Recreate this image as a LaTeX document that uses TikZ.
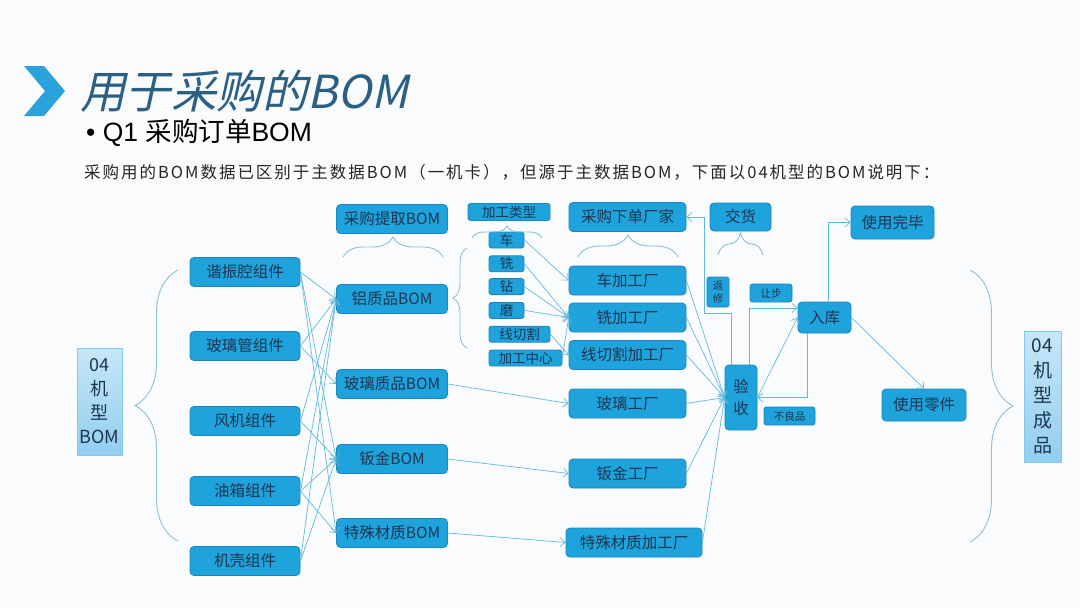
\documentclass[tikz,border=0pt]{standalone}
\usepackage{fontspec}
\setmainfont{Noto Sans CJK SC}
\newfontfamily\pbtitlefont[FakeSlant=0.22]{Noto Sans CJK SC}
\newfontfamily\pblatin{Liberation Sans}
\newfontfamily\pbdescfont[LetterSpace=12]{Noto Sans CJK SC}
\usetikzlibrary{arrows.meta,positioning,decorations.pathreplacing}
\definecolor{pbBg}{HTML}{FAFBFC}
\definecolor{pbFill}{HTML}{1FA3DC}
\definecolor{pbEdge}{HTML}{1A86BE}
\definecolor{pbText}{HTML}{1D3550}
\definecolor{pbLine}{HTML}{62BADB}
\definecolor{pbBrace}{HTML}{8CC1D5}
\definecolor{pbPaleTop}{HTML}{C6E7F8}
\definecolor{pbPaleBot}{HTML}{92CEEF}
\definecolor{pbPaleEdge}{HTML}{86C8EA}
\definecolor{pbTitle}{HTML}{2C5F84}
\definecolor{pbChev}{HTML}{2AA3DC}
\newcommand{\pbmain}{\fontsize{15.5}{18}\selectfont}
\newcommand{\pbsmall}{\fontsize{13.5}{15}\selectfont}
\newcommand{\pbtiny}{\fontsize{10.5}{12}\selectfont}
\tikzset{
  pbbox/.style={draw=pbEdge,line width=0.8pt,fill=pbFill,text=pbText,rounded corners=4pt,
                align=center,inner sep=0pt,font=\pbmain,minimum width=111pt,minimum height=29pt},
  pbtype/.style={pbbox,rounded corners=2.5pt,font=\pbsmall,minimum width=35pt,minimum height=16pt},
  pbtag/.style={pbbox,rounded corners=2.5pt,font=\pbtiny,minimum height=18pt},
  pbpale/.style={draw=pbPaleEdge,line width=0.8pt,top color=pbPaleTop,bottom color=pbPaleBot,
                 text=pbText,align=center,inner sep=0pt},
  pbflow/.style={-{Straight Barb[length=5pt,width=9pt]},draw=pbLine,line width=0.7pt},
  pbbrace/.style={draw=pbBrace,line width=0.9pt,decorate,decoration={brace,amplitude=#1}},
}

\begin{document}
\begin{tikzpicture}[x=1pt,y=-1pt]
  \fill[pbBg] (0,0) rectangle (1080,608);
  % heading
  \fill[pbChev] (24,66) -- (44,66) -- (65,91) -- (44,116) -- (24,116) -- (45,91) -- cycle;
  \node[anchor=west,inner sep=0pt,text=pbTitle,font=\pbtitlefont\fontsize{45.5}{48}\selectfont] (title) at (80,91) {用于采购的BOM};
  \node[anchor=west,inner sep=0pt,text=black,font=\fontsize{26.5}{29}\selectfont] (sub) at (86,133) {{\pblatin• Q1 }采购订单{\pblatin BOM}};
  \node[anchor=west,inner sep=0pt,text=black!85,font=\pbdescfont\fontsize{16.5}{18}\selectfont] (desc) at (84,172) {采购用的BOM数据已区别于主数据BOM（一机卡），但源于主数据BOM，下面以04机型的BOM说明下：};

  % model and components
  \node[pbpale,minimum width=45pt,minimum height=107pt,font=\fontsize{18}{24}\selectfont] (m04) at (99.5,401.5) {04\\机\\型\\BOM};
  \node[pbbox,minimum width=110pt] (xzq) at (245,272) {谐振腔组件};
  \node[pbbox,minimum width=110pt] (blg) at (245,346) {玻璃管组件};
  \node[pbbox,minimum width=110pt] (fji) at (245,421) {风机组件};
  \node[pbbox,minimum width=110pt] (yxi) at (245,491) {油箱组件};
  \node[pbbox,minimum width=110pt] (jke) at (245,561) {机壳组件};

  % BOM column
  \node[pbbox] (tqbom) at (392,219) {采购提取BOM};
  \node[pbbox] (lvbom) at (392,299) {铝质品BOM};
  \node[pbbox] (blbom) at (392,384) {玻璃质品BOM};
  \node[pbbox] (bjbom) at (392,459) {钣金BOM};
  \node[pbbox] (tsbom) at (392,533) {特殊材质BOM};

  % machining types
  \node[pbtype,minimum width=82pt,minimum height=17pt] (lxtype) at (509,212) {加工类型};
  \node[pbtype] (che) at (506.5,240) {车};
  \node[pbtype,below right=7pt and 0pt of che.south west] (xi) {铣};
  \node[pbtype,below right=6pt and 0pt of xi.south west] (zuan) {钻};
  \node[pbtype,below right=7pt and 0pt of zuan.south west] (mo) {磨};
  \node[pbtype,minimum width=61pt,below right=7pt and 0pt of mo.south west] (xqg) {线切割};
  \node[pbtype,minimum width=73pt,below right=7pt and 0pt of xqg.south west] (jgzx) {加工中心};

  % factories
  \node[pbbox,minimum width=117pt] (xdcj) at (627.5,217) {采购下单厂家};
  \node[pbbox,minimum width=117pt] (chef) at (627.5,280.5) {车加工厂};
  \node[pbbox,minimum width=117pt] (xif) at (627.5,317.5) {铣加工厂};
  \node[pbbox,minimum width=117pt] (xqf) at (627.5,355) {线切割加工厂};
  \node[pbbox,minimum width=117pt] (blf) at (627.5,403.5) {玻璃工厂};
  \node[pbbox,minimum width=117pt] (bjf) at (627.5,473.5) {钣金工厂};
  \node[pbbox,minimum width=136pt] (tsf) at (634,542.5) {特殊材质加工厂};

  % receiving and stock
  \node[pbbox,minimum width=61pt,minimum height=28pt] (jh) at (740.5,217) {交货};
  \node[pbtag,minimum width=22pt,minimum height=30pt,font=\fontsize{10.5}{13}\selectfont] (fx) at (718,292) {返\\修};
  \node[pbtag,minimum width=42pt] (rb) at (771,293) {让步};
  \node[pbbox,minimum width=53pt,minimum height=31pt] (rk) at (824.5,317.5) {入库};
  \node[pbbox,minimum width=32pt,minimum height=65pt,font=\fontsize{15.5}{22}\selectfont] (ys) at (741,397.5) {验\\收};
  \node[pbtag,minimum width=51pt] (blp) at (789.5,416) {不良品};
  \node[pbbox,minimum width=83pt,minimum height=33pt] (sywb) at (892.5,222.5) {使用完毕};
  \node[pbbox,minimum width=84pt,minimum height=32pt] (sylj) at (924,405) {使用零件};
  \node[pbpale,minimum width=37pt,minimum height=131pt,font=\fontsize{19}{25}\selectfont] (cp04) at (1042.5,396.5) {04\\机\\型\\成\\品};

  % braces
  \draw[pbbrace=43pt] (178,541) -- (178,270);
  \draw[pbbrace=43pt] (970,270) -- (970,542);
  \draw[pbbrace=20pt] (343,257) -- (443,257);
  \draw[pbbrace=12pt] (472,238) -- (542,238);
  \draw[pbbrace=22pt] (578,257) -- (678,257);
  \draw[pbbrace=22pt] (718,255) -- (763,255);
  \draw[pbbrace=14pt] (467,348) -- (467,248);

  % components to BOMs
  \draw[pbflow] (xzq.east) -- (lvbom.west);
  \draw[pbflow] (xzq.east) -- (bjbom.west);
  \draw[pbflow] (xzq.east) -- (tsbom.west);
  \draw[pbflow] (blg.east) -- (lvbom.west);
  \draw[pbflow] (blg.east) -- (blbom.west);
  \draw[pbflow] (fji.east) -- (lvbom.west);
  \draw[pbflow] (fji.east) -- (bjbom.west);
  \draw[pbflow] (yxi.east) -- (lvbom.west);
  \draw[pbflow] (yxi.east) -- (bjbom.west);
  \draw[pbflow] (yxi.east) -- (tsbom.west);
  \draw[pbflow] (jke.east) -- (lvbom.west);
  \draw[pbflow] (jke.east) -- (bjbom.west);

  % types and BOMs to factories
  \draw[pbflow] (che.east) -- (chef.west);
  \draw[pbflow] (xi.east) -- (xif.west);
  \draw[pbflow] (zuan.east) -- (xif.west);
  \draw[pbflow] (mo.east) -- (xif.west);
  \draw[pbflow] (xqg.east) -- (xqf.west);
  \draw[pbflow] (jgzx.east) -- (xif.west);
  \draw[pbflow] (blbom.east) -- (blf.west);
  \draw[pbflow] (bjbom.east) -- (bjf.west);
  \draw[pbflow] (tsbom.east) -- (tsf.west);

  % factories to receiving
  \foreach \f in {chef,xif,xqf,blf,bjf,tsf}
    \draw[pbflow] (\f.east) -- (ys.west);

  \coordinate (fxbend) at ([xshift=-2pt,yshift=-6pt]fx.south west);
  \draw[pbflow] ([xshift=7pt]ys.north west) |- (fxbend) |- (xdcj.east);
  \draw[pbflow] ([xshift=25pt]ys.north west) |- ([yshift=9.5pt]rk.west);
  \draw[pbflow] (ys.east) -- (rk.west);
  \draw[pbflow] ([xshift=-17.5pt]rk.south) |- (ys.east);
  \draw[pbflow] ([xshift=4pt]rk.north) |- (sywb.west);
  \draw[pbflow] (rk.east) -- (sylj.north);
\end{tikzpicture}
\end{document}
